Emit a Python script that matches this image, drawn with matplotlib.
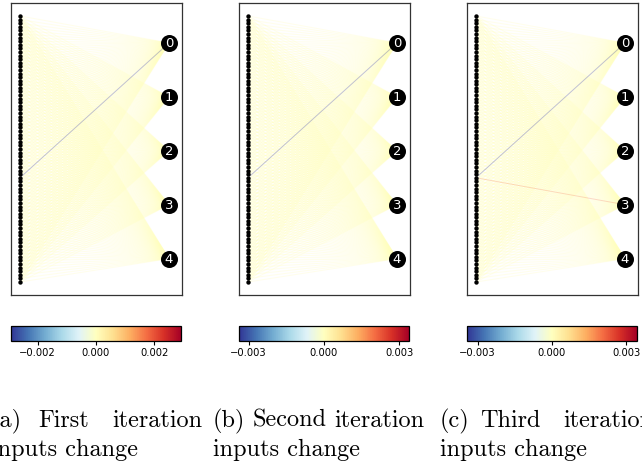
"""Three-panel view of input->output weight changes over training iterations."""

import matplotlib
matplotlib.use("Agg")
import matplotlib.pyplot as plt
import numpy as np
from matplotlib.collections import LineCollection
from matplotlib.colors import Normalize
from matplotlib.cm import ScalarMappable
from matplotlib.ticker import FuncFormatter

W, H = 642, 464
DPI = 100

N_INPUTS = 75
OUTPUT_LABELS = ["0", "1", "2", "3", "4"]

# (input index, output index, weight change); all other links are ~0
FIRST_CHANGES = [(45, 0, -0.00291)]
SECOND_CHANGES = [(45, 0, -0.00338)]
THIRD_CHANGES = [(45, 0, -0.00343), (45, 3, 0.0018)]

FIRST_TICKS = [-0.002, 0.0, 0.002]
SECOND_TICKS = [-0.003, 0.0, 0.003]
THIRD_TICKS = [-0.003, 0.0, 0.003]

CAPTION_LINE1 = [["(a)", "First", "iteration"],
                 ["(b)", "Second", "iteration"],
                 ["(c)", "Third", "iteration"]]
CAPTION_LINE2 = "inputs change"

CMAP = plt.get_cmap("RdYlBu_r")

# pixel layout
PANEL_LEFT = [11, 239, 467]
PANEL_W = 171
WORD_X = [[-9, 38, 112], [213, 253, 334], [440, 480, 563]]


def px_rect(x, y, w, h):
    return [x / W, 1 - (y + h) / H, w / W, h / H]


def weight_matrix(changes):
    wts = np.zeros((N_INPUTS, len(OUTPUT_LABELS)))
    for i, j, v in changes:
        wts[i, j] = v
    return wts


def draw_panel(fig, left, changes, ticks):
    ax = fig.add_axes(px_rect(left, 4, PANEL_W, 292))
    wts = weight_matrix(changes)
    vmax = np.abs(wts).max()
    norm = Normalize(-vmax, vmax)

    in_y = -np.arange(N_INPUTS, dtype=float)
    out_y = -(7.5 + 15 * np.arange(len(OUTPUT_LABELS)))

    segs, cols, mags = [], [], []
    for i in range(N_INPUTS):
        for j in range(len(OUTPUT_LABELS)):
            segs.append([(0, in_y[i]), (1, out_y[j])])
            cols.append(CMAP(norm(wts[i, j])))
            mags.append(abs(wts[i, j]))
    order = np.argsort(mags, kind="stable")
    lc = LineCollection([segs[k] for k in order],
                        colors=[cols[k] for k in order],
                        linewidths=0.7, alpha=0.3, zorder=1)
    ax.add_collection(lc)

    ax.scatter(np.zeros(N_INPUTS), in_y, s=10, color="black", zorder=3,
               linewidths=0)
    ax.scatter(np.ones(len(OUTPUT_LABELS)), out_y, s=150, color="black",
               zorder=3, linewidths=0)
    for lab, y in zip(OUTPUT_LABELS, out_y):
        ax.text(1, y, lab, color="white", fontsize=9.5, ha="center",
                va="center", zorder=4)

    ax.set_xlim(-9 / 149, 1 + 13 / 149)
    ax.set_ylim(-74 - 13 / 3.595, 13 / 3.595)
    ax.set_xticks([])
    ax.set_yticks([])
    for sp in ax.spines.values():
        sp.set_color("#333333")
        sp.set_linewidth(0.9)

    cax = fig.add_axes(px_rect(left, 327, 170, 15))
    sm = ScalarMappable(norm=norm, cmap=CMAP)
    cb = fig.colorbar(sm, cax=cax, orientation="horizontal")
    cb.set_ticks(ticks)
    cb.ax.xaxis.set_major_formatter(
        FuncFormatter(lambda v, p: f"{v:.3f}".replace("-", "\u2212")))
    cb.ax.tick_params(labelsize=7.2, length=3, width=0.8, pad=1.5)
    cb.outline.set_linewidth(0.9)


def main():
    fig = plt.figure(figsize=(W / DPI, H / DPI), dpi=DPI)

    panels = [(FIRST_CHANGES, FIRST_TICKS),
              (SECOND_CHANGES, SECOND_TICKS),
              (THIRD_CHANGES, THIRD_TICKS)]
    for left, (changes, ticks) in zip(PANEL_LEFT, panels):
        draw_panel(fig, left, changes, ticks)

    cap_kw = dict(fontsize=17.5, family="cmr10", va="baseline", ha="left")
    for words, xs in zip(CAPTION_LINE1, WORD_X):
        for word, x in zip(words, xs):
            fig.text(x / W, 1 - 427 / H, word, **cap_kw)
        fig.text(xs[0] / W, 1 - 456 / H, CAPTION_LINE2, **cap_kw)

    fig.savefig("out.png", dpi=DPI)
    plt.close(fig)


if __name__ == "__main__":
    main()
